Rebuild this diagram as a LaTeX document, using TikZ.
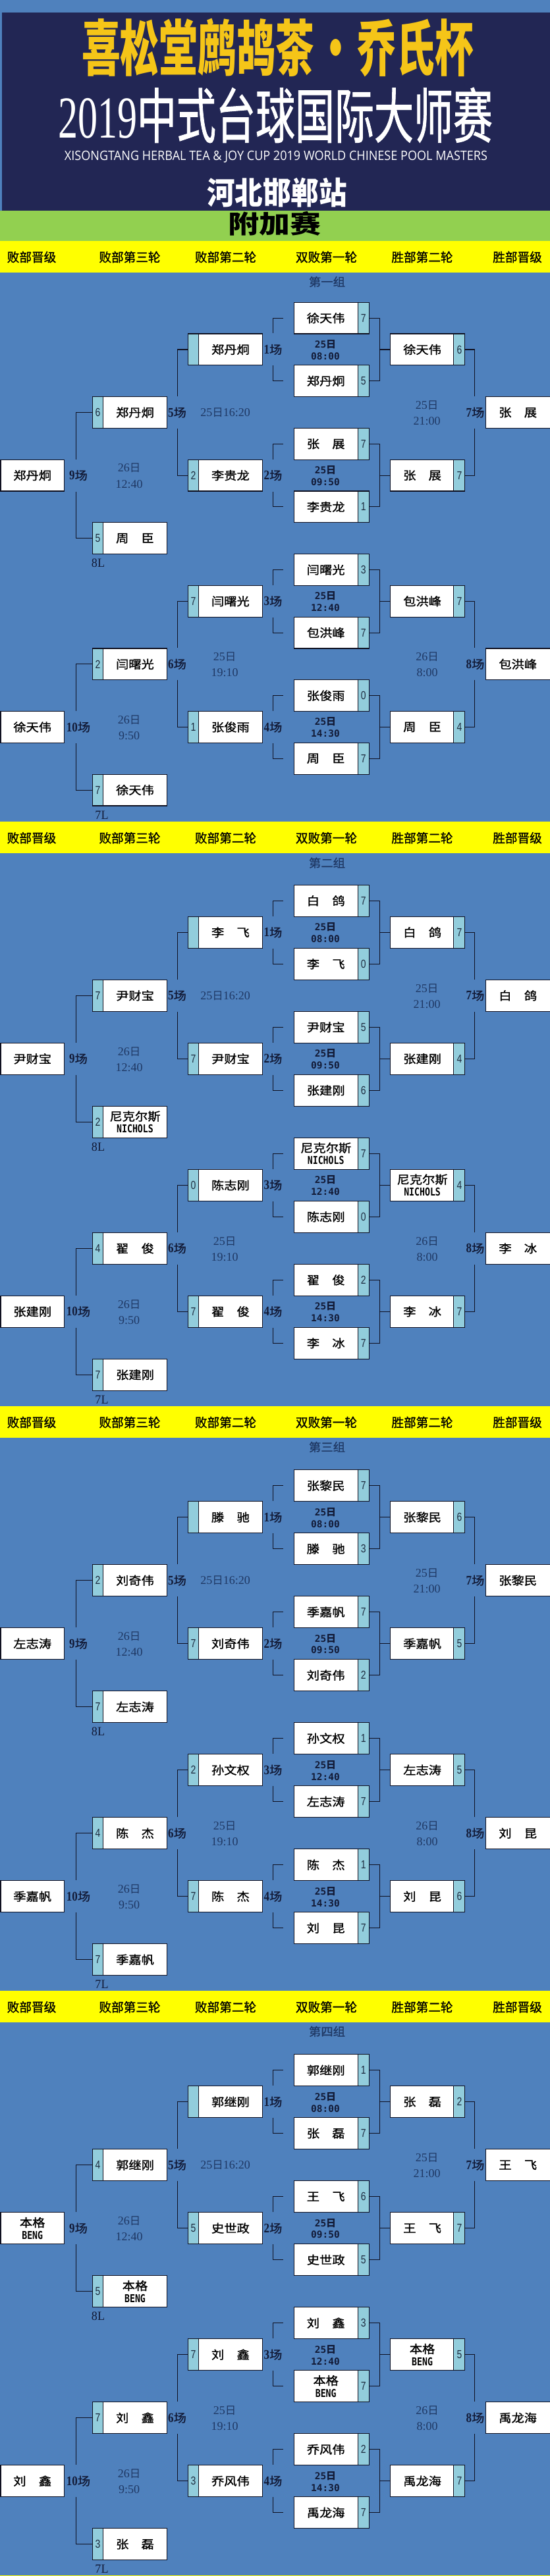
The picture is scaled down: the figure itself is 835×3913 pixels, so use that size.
\documentclass[tikz,border=0pt]{standalone}
\usepackage{fontspec}
\usepackage{graphicx}
\usetikzlibrary{calc}
\newfontfamily\cjk{Noto Sans CJK SC}
\newfontfamily\cjkm{Noto Sans CJK SC}[FakeBold=1.2]
\newfontfamily\ser{Liberation Serif}
\newfontfamily\sansf{Liberation Sans}
\newfontfamily\mono{DejaVu Sans Mono}
\newfontfamily\osans{Open Sans}
\definecolor{bgblue}{HTML}{4F81BD}
\definecolor{navyh}{HTML}{222654}
\definecolor{ttlyel}{HTML}{F5C518}
\definecolor{grn}{HTML}{92D050}
\definecolor{ylw}{HTML}{FFFF00}
\definecolor{stripc}{HTML}{92CDDC}
\definecolor{tcol}{HTML}{1F3864}
\definecolor{scol}{HTML}{1E2C40}
\definecolor{lcol}{HTML}{121A36}
\definecolor{lnc}{HTML}{0F1020}
\tikzset{
 pbox/.style={draw=lnc, line width=1.2pt, fill=white, inner sep=0pt},
 stripL/.style={path picture={\fill[stripc] (path picture bounding box.north west) rectangle ([xshift=16pt]path picture bounding box.south west);
   \draw[lnc,line width=1pt] ([xshift=16pt]path picture bounding box.north west) -- ([xshift=16pt]path picture bounding box.south west);}},
 stripR/.style={path picture={\fill[stripc] ([xshift=-17pt]path picture bounding box.north east) rectangle (path picture bounding box.south east);
   \draw[lnc,line width=1pt] ([xshift=-17pt]path picture bounding box.north east) -- ([xshift=-17pt]path picture bounding box.south east);}},
 nm/.style={inner sep=0pt, text=black, align=center, font=\fontsize{17.5}{18.5}\selectfont},
 scr/.style={inner sep=0pt, text=scol},
 ln/.style={draw=lnc, line width=1.1pt},
 lbl/.style={inner sep=0pt, text=lcol},
 tm/.style={inner sep=0pt, text=tcol},
 bt/.style={inner sep=0pt, text=lcol},
 yl/.style={inner sep=0pt, text=black},
}
\newcommand\q[1]{\scalebox{1.1}[1]{\cjkm\fontsize{17.5}{18}\selectfont #1}}
\newcommand\latb[1]{\scalebox{0.8}[1]{\mono\bfseries\fontsize{16.5}{17}\selectfont #1}}
\newcommand\duo[2]{\q{#1}\\\latb{#2}}
\newcommand\scd[1]{\scalebox{0.8}[1]{\sansf\fontsize{17.5}{17.5}\selectfont #1}}
\newcommand\lb[1]{\scalebox{0.85}[1]{\ser\bfseries\fontsize{20}{20}\selectfont #1}\scalebox{1.1}[1]{\cjkm\fontsize{17.5}{18}\selectfont 场}}
\newcommand\tn[1]{\scalebox{1.0}[1]{\ser\fontsize{18}{18}\selectfont #1}}
\newcommand\ri{{\cjk\fontsize{16.5}{17}\selectfont 日}}
\newcommand\bn[1]{\scalebox{1.0}[1]{\mono\bfseries\fontsize{14.5}{15}\selectfont #1}}
\newcommand\bri{{\cjk\bfseries\fontsize{15}{15}\selectfont 日}}
\newcommand\el[1]{\scalebox{0.95}[1]{\ser\fontsize{19}{19}\selectfont #1}}
\newcommand\yh[1]{\scalebox{0.98}[1]{\cjkm\fontsize{19}{19}\selectfont #1}}
\newcommand\gt[1]{\scalebox{1.05}[1]{\cjkm\fontsize{17.5}{18}\selectfont #1}}
\newcommand\setrow[1]{\pgfmathsetmacro\yc{\gR+\gS*(#1+0.5)}}
% boxes
\newcommand\bA[3]{\setrow{#2}%
 \node[pbox,minimum width=96.4pt,minimum height=\gS pt] (#1) at (49.2,\yc) {};
 \node[nm] (#1t) at (49.2,\yc) {#3};}
\newcommand\bF[3]{\setrow{#2}%
 \node[pbox,minimum width=98.5pt,minimum height=\gS pt] (#1) at (786.75,\yc) {};
 \node[nm] (#1t) at (786.2,\yc) {#3};}
\newcommand\bB[4]{\setrow{#2}%
 \node[pbox,stripL,minimum width=112.9pt,minimum height=\gS pt] (#1) at (197.05,\yc) {};
 \node[nm] (#1t) at (205,\yc) {#3};
 \node[scr] (#1s) at (148.6,\yc) {\scd{#4}};}
\newcommand\bC[4]{\setrow{#2}%
 \node[pbox,stripL,minimum width=112.9pt,minimum height=\gS pt] (#1) at (341.85,\yc) {};
 \node[nm] (#1t) at (349.9,\yc) {#3};
 \node[scr] (#1s) at (293.4,\yc) {\scd{#4}};}
\newcommand\bD[4]{\setrow{#2}%
 \node[pbox,stripR,minimum width=114pt,minimum height=\gS pt] (#1) at (503.2,\yc) {};
 \node[nm] (#1t) at (494.7,\yc) {#3};
 \node[scr] (#1s) at (551.7,\yc) {\scd{#4}};}
\newcommand\bE[4]{\setrow{#2}%
 \node[pbox,stripR,minimum width=112.8pt,minimum height=\gS pt] (#1) at (649.1,\yc) {};
 \node[nm] (#1t) at (641.1,\yc) {#3};
 \node[scr] (#1s) at (697.5,\yc) {\scd{#4}};}
% band
\newcommand\band[3]{% Y, id, title y
 \fill[ylw] (0,#1) rectangle (835,{#1+47.6});
 \node[yl] (#2h1) at (48,{#1+24.5}) {\yh{败部晋级}};
 \node[yl] (#2h2) at (197,{#1+24.5}) {\yh{败部第三轮}};
 \node[yl] (#2h3) at (342.5,{#1+24.5}) {\yh{败部第二轮}};
 \node[yl] (#2h4) at (495.5,{#1+24.5}) {\yh{双败第一轮}};
 \node[yl] (#2h5) at (641,{#1+24.5}) {\yh{胜部第二轮}};
 \node[yl] (#2h6) at (785.5,{#1+24.5}) {\yh{胜部晋级}};}
% connectors
\newcommand\conn[1]{%
 \foreach \c/\da/\db in {1/1/2,2/3/4,3/5/6,4/7/8}{
  \draw[ln] ($(#1d\da.west)+(-16,0)$) -| ($(#1c\c.north east)+(16,0)$);
  \draw[ln] ($(#1d\db.west)+(-16,0)$) -| ($(#1c\c.south east)+(16,0)$);
  \draw[ln] (#1d\da.east) -- ++(16,0) coordinate (#1v\c) |- (#1d\db.east);
  \draw[ln] (#1e\c.west) -- (#1e\c.west -| #1v\c);
 }
 \draw[ln] (#1e1.east) -| ($(#1f1.north west)+(-16,0)$);
 \draw[ln] (#1e2.east) -| ($(#1f1.south west)+(-16,0)$);
 \draw[ln] (#1e3.east) -| ($(#1f2.north west)+(-16,0)$);
 \draw[ln] (#1e4.east) -| ($(#1f2.south west)+(-16,0)$);
 \draw[ln] (#1c1.west) -| ($(#1b1.north east)+(15.5,0)$);
 \draw[ln] (#1c2.west) -| ($(#1b1.south east)+(15.5,0)$);
 \draw[ln] (#1c3.west) -| ($(#1b3.north east)+(15.5,0)$);
 \draw[ln] (#1c4.west) -| ($(#1b3.south east)+(15.5,0)$);
 \draw[ln] (#1b1.west) -| ($(#1a1.north east)+(17.1,0)$);
 \draw[ln] (#1b2.west) -| ($(#1a1.south east)+(17.1,0)$);
 \draw[ln] (#1b3.west) -| ($(#1a2.north east)+(17.1,0)$);
 \draw[ln] (#1b4.west) -| ($(#1a2.south east)+(17.1,0)$);
}
% labels
\newcommand\labs[1]{%
 \setrow{1}
 \node[lbl] (#1l1) at (414.5,\yc) {\lb{1}};
 \node[bt] (#1m1a) at (494,{\yc-8}) {\bn{25}\bri};
 \node[bt] (#1m1b) at (494,{\yc+10}) {\bn{08:00}};
 \setrow{5}
 \node[lbl] (#1l2) at (414.5,\yc) {\lb{2}};
 \node[bt] (#1m2a) at (494,{\yc-8}) {\bn{25}\bri};
 \node[bt] (#1m2b) at (494,{\yc+10}) {\bn{09:50}};
 \node[lbl] (#1l9) at (119,\yc) {\lb{9}};
 \node[tm] (#1m9a) at (196,{\yc-11}) {\tn{26}\ri};
 \node[tm] (#1m9b) at (196,{\yc+13}) {\tn{12:40}};
 \setrow{9}
 \node[lbl] (#1l3) at (414.5,\yc) {\lb{3}};
 \node[bt] (#1m3a) at (494,{\yc-8}) {\bn{25}\bri};
 \node[bt] (#1m3b) at (494,{\yc+10}) {\bn{12:40}};
 \setrow{13}
 \node[lbl] (#1l4) at (414.5,\yc) {\lb{4}};
 \node[bt] (#1m4a) at (494,{\yc-8}) {\bn{25}\bri};
 \node[bt] (#1m4b) at (494,{\yc+10}) {\bn{14:30}};
 \node[lbl] (#1l10) at (119,\yc) {\lb{10}};
 \node[tm] (#1m10a) at (196,{\yc-11}) {\tn{26}\ri};
 \node[tm] (#1m10b) at (196,{\yc+13}) {\tn{9:50}};
 \setrow{3}
 \node[lbl] (#1l5) at (269,\yc) {\lb{5}};
 \node[tm] (#1m5) at (342,\yc) {\tn{25}\ri\tn{16:20}};
 \node[lbl] (#1l7) at (721.5,\yc) {\lb{7}};
 \node[tm] (#1m7a) at (648,{\yc-11}) {\tn{25}\ri};
 \node[tm] (#1m7b) at (648,{\yc+13}) {\tn{21:00}};
 \setrow{11}
 \node[lbl] (#1l6) at (269,\yc) {\lb{6}};
 \node[tm] (#1m6a) at (341,{\yc-11}) {\tn{25}\ri};
 \node[tm] (#1m6b) at (341,{\yc+13}) {\tn{19:10}};
 \node[lbl] (#1l8) at (721.5,\yc) {\lb{8}};
 \node[tm] (#1m8a) at (648.5,{\yc-11}) {\tn{26}\ri};
 \node[tm] (#1m8b) at (648.5,{\yc+13}) {\tn{8:00}};
 \pgfmathsetmacro\yy{\gR+\gS*8+13.5}
 \node[lbl] (#1el8) at (149,\yy) {\el{8L}};
 \pgfmathsetmacro\yy{\gR+\gS*16+14}
 \node[lbl] (#1el7) at (154.5,\yy) {\el{7L}};
}
\begin{document}
\begin{tikzpicture}[x=1pt,y=-1pt]
\useasboundingbox (0,0) rectangle (835,3913);
\fill[bgblue] (0,0) rectangle (835,3913);
\fill[navyh] (2.7,19) rectangle (835,320);
\fill[grn] (0,320) rectangle (835,366);
\fill[ylw] (0,3911.5) rectangle (835,3913);
\node[inner sep=0pt,text=ttlyel] (title1) at (421.5,72.5) {\resizebox*{595pt}{89pt}{\cjk\bfseries 喜松堂鹧鸪茶\hspace{0.05em}·\hspace{0.05em}乔氏杯}};
\node[inner sep=0pt,text=white] (title2) at (418,175) {\resizebox*{660pt}{84pt}{\cjkm{\ser 2019}中式台球国际大师赛}};
\node[inner sep=0pt,text=white] (title3) at (419,238) {\resizebox*{642pt}{18pt}{\osans XISONGTANG HERBAL TEA \& JOY CUP 2019 WORLD CHINESE POOL MASTERS}};
\node[inner sep=0pt,text=white] (title4) at (420.5,292.5) {\resizebox*{213pt}{45pt}{\cjk\bfseries 河北邯郸站}};
\node[inner sep=0pt,text=black] (title5) at (416.5,339.5) {\resizebox*{141pt}{37pt}{\cjk\bfseries 附加赛}};

% ---------------- group 1
\band{366}{g1}{428}
\node[tm] (g1ttl) at (496.5,428) {\gt{第一组}};
\def\gR{459.3}\def\gS{47.79}
\bD{g1d1}{0}{\q{徐天伟}}{7}
\bC{g1c1}{1}{\q{郑丹炯}}{}
\bE{g1e1}{1}{\q{徐天伟}}{6}
\bD{g1d2}{2}{\q{郑丹炯}}{5}
\bB{g1b1}{3}{\q{郑丹炯}}{6}
\bF{g1f1}{3}{\q{张　展}}
\bD{g1d3}{4}{\q{张　展}}{7}
\bC{g1c2}{5}{\q{李贵龙}}{2}
\bE{g1e2}{5}{\q{张　展}}{7}
\bA{g1a1}{5}{\q{郑丹炯}}
\bD{g1d4}{6}{\q{李贵龙}}{1}
\bB{g1b2}{7}{\q{周　臣}}{5}
\bD{g1d5}{8}{\q{闫曙光}}{3}
\bC{g1c3}{9}{\q{闫曙光}}{7}
\bE{g1e3}{9}{\q{包洪峰}}{7}
\bD{g1d6}{10}{\q{包洪峰}}{7}
\bB{g1b3}{11}{\q{闫曙光}}{2}
\bF{g1f2}{11}{\q{包洪峰}}
\bD{g1d7}{12}{\q{张俊雨}}{0}
\bC{g1c4}{13}{\q{张俊雨}}{1}
\bE{g1e4}{13}{\q{周　臣}}{4}
\bA{g1a2}{13}{\q{徐天伟}}
\bD{g1d8}{14}{\q{周　臣}}{7}
\bB{g1b4}{15}{\q{徐天伟}}{7}
\conn{g1}
\labs{g1}

% ---------------- group 2
\band{1248.3}{g2}{1310.7}
\node[tm] (g2ttl) at (496.5,1310.7) {\gt{第二组}};
\def\gR{1344.3}\def\gS{48}
\bD{g2d1}{0}{\q{白　鸽}}{7}
\bC{g2c1}{1}{\q{李　飞}}{}
\bE{g2e1}{1}{\q{白　鸽}}{7}
\bD{g2d2}{2}{\q{李　飞}}{0}
\bB{g2b1}{3}{\q{尹财宝}}{7}
\bF{g2f1}{3}{\q{白　鸽}}
\bD{g2d3}{4}{\q{尹财宝}}{5}
\bC{g2c2}{5}{\q{尹财宝}}{7}
\bE{g2e2}{5}{\q{张建刚}}{4}
\bA{g2a1}{5}{\q{尹财宝}}
\bD{g2d4}{6}{\q{张建刚}}{6}
\bB{g2b2}{7}{\duo{尼克尔斯}{NICHOLS}}{2}
\bD{g2d5}{8}{\duo{尼克尔斯}{NICHOLS}}{7}
\bC{g2c3}{9}{\q{陈志刚}}{0}
\bE{g2e3}{9}{\duo{尼克尔斯}{NICHOLS}}{4}
\bD{g2d6}{10}{\q{陈志刚}}{0}
\bB{g2b3}{11}{\q{翟　俊}}{4}
\bF{g2f2}{11}{\q{李　冰}}
\bD{g2d7}{12}{\q{翟　俊}}{2}
\bC{g2c4}{13}{\q{翟　俊}}{7}
\bE{g2e4}{13}{\q{李　冰}}{7}
\bA{g2a2}{13}{\q{张建刚}}
\bD{g2d8}{14}{\q{李　冰}}{7}
\bB{g2b4}{15}{\q{张建刚}}{7}
\conn{g2}
\labs{g2}

% ---------------- group 3
\band{2136}{g3}{2198}
\node[tm] (g3ttl) at (496.5,2198) {\gt{第三组}};
\def\gR{2232.7}\def\gS{48}
\bD{g3d1}{0}{\q{张黎民}}{7}
\bC{g3c1}{1}{\q{滕　驰}}{}
\bE{g3e1}{1}{\q{张黎民}}{6}
\bD{g3d2}{2}{\q{滕　驰}}{3}
\bB{g3b1}{3}{\q{刘奇伟}}{2}
\bF{g3f1}{3}{\q{张黎民}}
\bD{g3d3}{4}{\q{季嘉帆}}{7}
\bC{g3c2}{5}{\q{刘奇伟}}{7}
\bE{g3e2}{5}{\q{季嘉帆}}{5}
\bA{g3a1}{5}{\q{左志涛}}
\bD{g3d4}{6}{\q{刘奇伟}}{2}
\bB{g3b2}{7}{\q{左志涛}}{7}
\bD{g3d5}{8}{\q{孙文权}}{1}
\bC{g3c3}{9}{\q{孙文权}}{2}
\bE{g3e3}{9}{\q{左志涛}}{5}
\bD{g3d6}{10}{\q{左志涛}}{7}
\bB{g3b3}{11}{\q{陈　杰}}{4}
\bF{g3f2}{11}{\q{刘　昆}}
\bD{g3d7}{12}{\q{陈　杰}}{1}
\bC{g3c4}{13}{\q{陈　杰}}{7}
\bE{g3e4}{13}{\q{刘　昆}}{6}
\bA{g3a2}{13}{\q{季嘉帆}}
\bD{g3d8}{14}{\q{刘　昆}}{7}
\bB{g3b4}{15}{\q{季嘉帆}}{7}
\conn{g3}
\labs{g3}

% ---------------- group 4
\band{3024.2}{g4}{3085.8}
\node[tm] (g4ttl) at (496.5,3085.8) {\gt{第四组}};
\def\gR{3120.7}\def\gS{48}
\bD{g4d1}{0}{\q{郭继刚}}{1}
\bC{g4c1}{1}{\q{郭继刚}}{}
\bE{g4e1}{1}{\q{张　磊}}{2}
\bD{g4d2}{2}{\q{张　磊}}{7}
\bB{g4b1}{3}{\q{郭继刚}}{4}
\bF{g4f1}{3}{\q{王　飞}}
\bD{g4d3}{4}{\q{王　飞}}{6}
\bC{g4c2}{5}{\q{史世政}}{5}
\bE{g4e2}{5}{\q{王　飞}}{7}
\bA{g4a1}{5}{\duo{本格}{BENG}}
\bD{g4d4}{6}{\q{史世政}}{5}
\bB{g4b2}{7}{\duo{本格}{BENG}}{5}
\bD{g4d5}{8}{\q{刘　鑫}}{3}
\bC{g4c3}{9}{\q{刘　鑫}}{7}
\bE{g4e3}{9}{\duo{本格}{BENG}}{5}
\bD{g4d6}{10}{\duo{本格}{BENG}}{7}
\bB{g4b3}{11}{\q{刘　鑫}}{7}
\bF{g4f2}{11}{\q{禹龙海}}
\bD{g4d7}{12}{\q{乔风伟}}{2}
\bC{g4c4}{13}{\q{乔风伟}}{3}
\bE{g4e4}{13}{\q{禹龙海}}{7}
\bA{g4a2}{13}{\q{刘　鑫}}
\bD{g4d8}{14}{\q{禹龙海}}{7}
\bB{g4b4}{15}{\q{张　磊}}{3}
\conn{g4}
\labs{g4}
\end{tikzpicture}
\end{document}
